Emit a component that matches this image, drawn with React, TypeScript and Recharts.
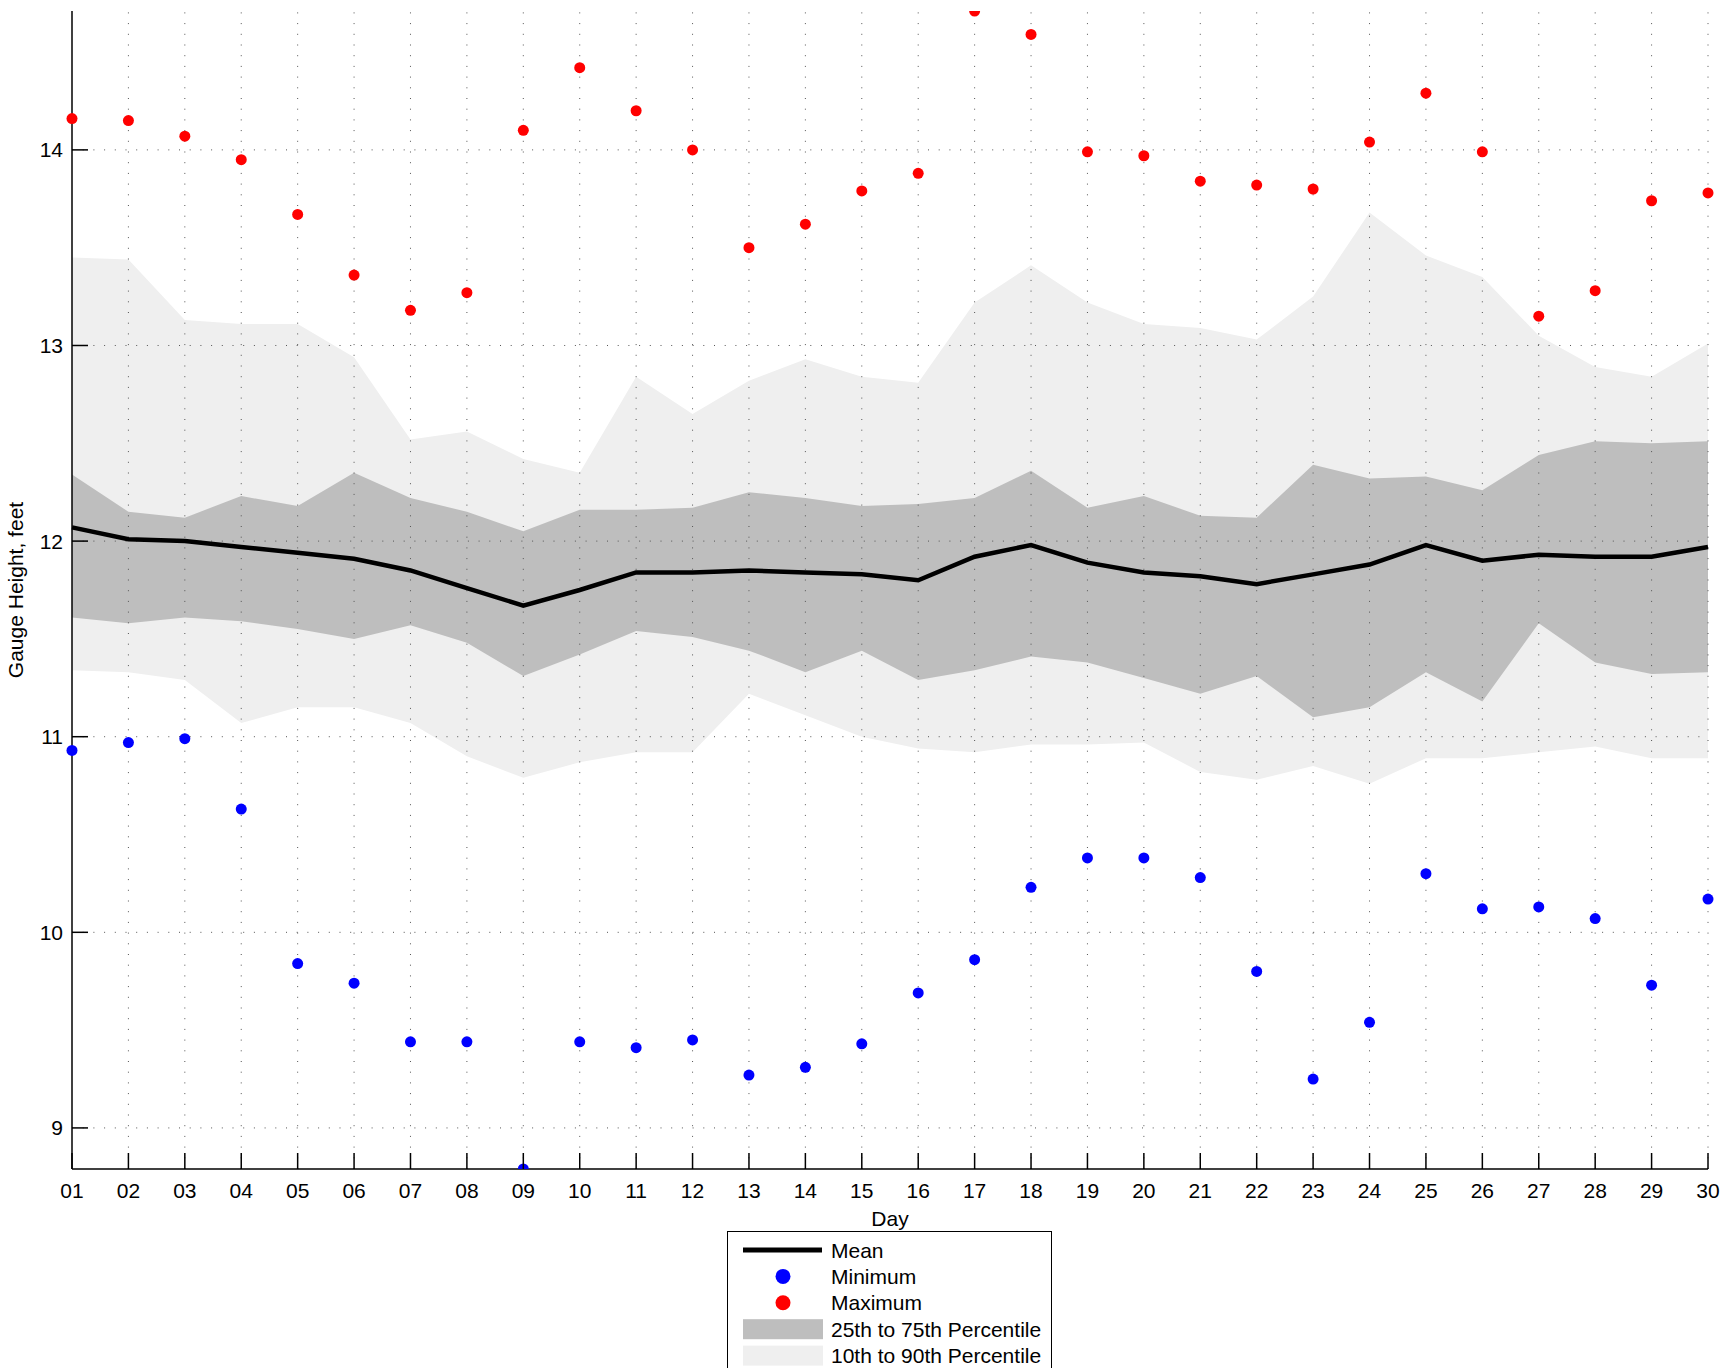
import React from "react"
import {
    ComposedChart,
    XAxis,
    YAxis,
    Area,
    Line,
    Scatter,
    ReferenceLine,
} from "recharts"

// Daily gauge height statistics, feet
const days = [1, 2, 3, 4, 5, 6, 7, 8, 9, 10, 11, 12, 13, 14, 15, 16, 17, 18, 19, 20, 21, 22, 23, 24, 25, 26, 27, 28, 29, 30]

const meanHeight = [
    12.07, 12.01, 12.0, 11.97, 11.94, 11.91, 11.85, 11.76, 11.67, 11.75,
    11.84, 11.84, 11.85, 11.84, 11.83, 11.8, 11.92, 11.98, 11.89, 11.84,
    11.82, 11.78, 11.83, 11.88, 11.98, 11.9, 11.93, 11.92, 11.92, 11.97,
]

const minHeight = [
    10.93, 10.97, 10.99, 10.63, 9.84, 9.74, 9.44, 9.44, 8.79, 9.44,
    9.41, 9.45, 9.27, 9.31, 9.43, 9.69, 9.86, 10.23, 10.38, 10.38,
    10.28, 9.8, 9.25, 9.54, 10.3, 10.12, 10.13, 10.07, 9.73, 10.17,
]

const maxHeight = [
    14.16, 14.15, 14.07, 13.95, 13.67, 13.36, 13.18, 13.27, 14.1, 14.42,
    14.2, 14.0, 13.5, 13.62, 13.79, 13.88, 14.71, 14.59, 13.99, 13.97,
    13.84, 13.82, 13.8, 14.04, 14.29, 13.99, 13.15, 13.28, 13.74, 13.78,
]

const p10 = [
    11.34, 11.33, 11.29, 11.07, 11.15, 11.15, 11.07, 10.9, 10.79, 10.87,
    10.92, 10.92, 11.22, 11.11, 11.0, 10.94, 10.92, 10.96, 10.96, 10.97,
    10.82, 10.78, 10.85, 10.76, 10.89, 10.89, 10.92, 10.95, 10.89, 10.89,
]

const p25 = [
    11.61, 11.58, 11.61, 11.59, 11.55, 11.5, 11.57, 11.48, 11.31, 11.42,
    11.54, 11.51, 11.44, 11.33, 11.44, 11.29, 11.34, 11.41, 11.38, 11.3,
    11.22, 11.31, 11.1, 11.15, 11.33, 11.18, 11.58, 11.38, 11.32, 11.33,
]

const p75 = [
    12.34, 12.15, 12.12, 12.23, 12.18, 12.35, 12.22, 12.15, 12.05, 12.16,
    12.16, 12.17, 12.25, 12.22, 12.18, 12.19, 12.22, 12.36, 12.17, 12.23,
    12.13, 12.12, 12.39, 12.32, 12.33, 12.26, 12.44, 12.51, 12.5, 12.51,
]

const p90 = [
    13.45, 13.44, 13.13, 13.11, 13.11, 12.94, 12.52, 12.56, 12.42, 12.35,
    12.84, 12.65, 12.82, 12.93, 12.84, 12.81, 13.22, 13.41, 13.22, 13.11,
    13.09, 13.03, 13.25, 13.68, 13.46, 13.35, 13.05, 12.89, 12.84, 13.01,
]

const yTicks = [9, 10, 11, 12, 13, 14]

const legendItems = ["Mean", "Minimum", "Maximum", "25th to 75th Percentile", "10th to 90th Percentile"]

const FONT = "'Liberation Sans', Arial, Helvetica, sans-serif"
const FONT_SIZE = 21
const LIGHT_BAND = "#efefef"
const DARK_BAND = "#bebebe"
const GRID_DASH = "1 9.7"
const TICK_LEN = 16

const chartData = days.map((day, i) => ({
    day,
    mean: meanHeight[i],
    min: minHeight[i],
    max: maxHeight[i],
    outer: [p10[i], p90[i]],
    inner: [p25[i], p75[i]],
}))

// axis tight to the extremes, like the original plot
const yDomain = [Math.min(...minHeight), Math.max(...maxHeight)]

const pad2 = (d: number) => String(d).padStart(2, "0")

// Ticks point into the plot; labels sit outside
const XTick = (props: any) => {
    const { x, y, payload } = props
    return (
        <g>
            <line x1={x} y1={y} x2={x} y2={y - TICK_LEN} stroke="#000" strokeWidth={1.5} />
            <text x={x} y={y + 21} textAnchor="middle" dominantBaseline="central" fontSize={FONT_SIZE} fontFamily={FONT} fill="#000">
                {pad2(payload.value)}
            </text>
        </g>
    )
}

const YTick = (props: any) => {
    const { x, y, payload } = props
    return (
        <g>
            <line x1={x} y1={y} x2={x + TICK_LEN} y2={y} stroke="#000" strokeWidth={1.5} />
            <text x={x - 9} y={y} textAnchor="end" dominantBaseline="central" fontSize={FONT_SIZE} fontFamily={FONT} fill="#000">
                {payload.value}
            </text>
        </g>
    )
}

const Dot = (color: string) => (props: any) => {
    const { cx, cy } = props
    if (cx == null || cy == null) return null
    return <circle cx={cx} cy={cy} r={5.5} fill={color} />
}

const LegendBox = () => {
    const rowH = 26.4
    return (
        <div
            style={{
                position: "absolute",
                left: 727,
                top: 1231,
                width: 325,
                height: 150,
                border: "1.5px solid #000",
                background: "#fff",
                boxSizing: "border-box",
            }}
        >
            <svg width={322} height={148} style={{ display: "block" }}>
                {legendItems.map((label, i) => {
                    const cy = 18 + i * rowH
                    let symbol: React.ReactNode = null
                    if (i === 0) symbol = <line x1={15} x2={94} y1={cy} y2={cy} stroke="#000" strokeWidth={5} />
                    if (i === 1) symbol = <circle cx={55} cy={cy} r={7.5} fill="#0000ff" />
                    if (i === 2) symbol = <circle cx={55} cy={cy} r={7.5} fill="#ff0000" />
                    if (i === 3) symbol = <rect x={15} y={cy - 10} width={80} height={20} fill={DARK_BAND} />
                    if (i === 4) symbol = <rect x={15} y={cy - 10} width={80} height={20} fill={LIGHT_BAND} />
                    return (
                        <g key={label}>
                            {symbol}
                            <text x={103} y={cy} dominantBaseline="central" fontSize={FONT_SIZE} fontFamily={FONT} fill="#000">
                                {label}
                            </text>
                        </g>
                    )
                })}
            </svg>
        </div>
    )
}

export default function App() {
    return (
        <div style={{ position: "absolute", left: 0, top: 0, width: 1723, height: 1368, overflow: "hidden", background: "#fff" }}>
            <ComposedChart
                width={1723}
                height={1368}
                data={chartData}
                margin={{ top: 11, right: 15, left: 0, bottom: 139 }}
            >
                <XAxis
                    dataKey="day"
                    type="number"
                    domain={[1, 30]}
                    ticks={days}
                    interval={0}
                    tickSize={0}
                    tickMargin={0}
                    tick={<XTick />}
                    axisLine={{ stroke: "#000", strokeWidth: 1.5 }}
                    height={60}
                    label={{ value: "Day", position: "insideBottom", offset: 3, fontSize: FONT_SIZE, fontFamily: FONT, fill: "#000" }}
                />
                <YAxis
                    type="number"
                    domain={yDomain}
                    ticks={yTicks}
                    interval={0}
                    tickSize={0}
                    tickMargin={0}
                    tick={<YTick />}
                    axisLine={{ stroke: "#000", strokeWidth: 1.5 }}
                    width={72}
                    allowDataOverflow
                    label={{
                        value: "Gauge Height, feet",
                        angle: -90,
                        position: "insideLeft",
                        offset: 16,
                        style: { textAnchor: "middle" },
                        fontSize: FONT_SIZE,
                        fontFamily: FONT,
                        fill: "#000",
                    }}
                />
                <Area
                    type="linear"
                    dataKey="outer"
                    stroke="none"
                    fill={LIGHT_BAND}
                    fillOpacity={1}
                    isAnimationActive={false}
                    activeDot={false}
                />
                <Area
                    type="linear"
                    dataKey="inner"
                    stroke="none"
                    fill={DARK_BAND}
                    fillOpacity={1}
                    isAnimationActive={false}
                    activeDot={false}
                />
                {/* dotted grid on top of the bands */}
                {days.slice(1).map((d) => (
                    <ReferenceLine key={`vx${d}`} x={d} stroke="#555" strokeWidth={1} strokeDasharray={GRID_DASH} />
                ))}
                {yTicks.map((t) => (
                    <ReferenceLine key={`hy${t}`} y={t} stroke="#555" strokeWidth={1} strokeDasharray={GRID_DASH} />
                ))}
                <Line
                    type="linear"
                    dataKey="mean"
                    stroke="#000"
                    strokeWidth={4.5}
                    dot={false}
                    activeDot={false}
                    isAnimationActive={false}
                />
                <Scatter dataKey="min" shape={Dot("#0000ff")} isAnimationActive={false} />
                <Scatter dataKey="max" shape={Dot("#ff0000")} isAnimationActive={false} />
            </ComposedChart>
            <LegendBox />
        </div>
    )
}
